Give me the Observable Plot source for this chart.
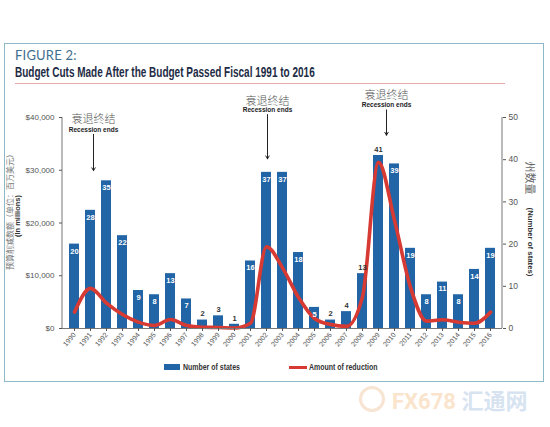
<!DOCTYPE html>
<html><head><meta charset="utf-8">
<script src="https://cdn.jsdelivr.net/npm/d3@7"></script>
<script src="https://cdn.jsdelivr.net/npm/@observablehq/plot@0.6"></script>
<style>
body{margin:0;background:#fff;}
#wrap{position:relative;width:550px;height:427px;overflow:hidden;background:#fff;
  font-family:"Liberation Sans","DejaVu Sans Condensed",sans-serif;}
#frame{position:absolute;left:4px;top:43px;width:538px;height:337px;border:1.5px solid #8cb9c8;}
#fig{position:absolute;left:15px;top:48px;font-family:"Lato","Open Sans",sans-serif;font-size:13px;letter-spacing:0.2px;color:#3f6e90;line-height:14px;}
#title{position:absolute;left:15px;top:64px;font-weight:bold;font-size:14px;color:#1d2b45;line-height:16px;white-space:nowrap;transform-origin:0 0;}
#rule{position:absolute;left:15px;top:83px;width:490px;height:1px;background:#e8a7aa;}
#chart{position:absolute;left:0;top:85px;}
#legend{position:absolute;left:0;top:361px;width:550px;height:12px;font-size:8.5px;font-weight:bold;color:#333;}
#legend .sw{position:absolute;}
#legend .lb{position:absolute;top:0;line-height:12px;white-space:nowrap;transform-origin:0 0;transform:scaleX(0.82);}
#wm{position:absolute;left:392px;top:383px;font-family:"Roboto","Noto Sans CJK SC",sans-serif;font-size:22px;font-weight:bold;white-space:nowrap;opacity:0.35;}
#wm .a{color:#f2b36e;}
#wm .b{color:#8fb2d8;font-family:"Noto Sans CJK SC",sans-serif;}
#wmlogo{position:absolute;left:359px;top:386px;width:20px;height:20px;border:3px solid #f1c9a6;border-radius:50%;opacity:0.5;}
</style></head><body>
<div id="wrap">
  <div id="frame"></div>
  <div id="fig">FIGURE 2:</div>
  <div id="title">Budget Cuts Made After the Budget Passed Fiscal 1991 to 2016</div>
  <div id="rule"></div>
  <div id="chart"></div>
  <div id="legend">
    <div class="sw" style="left:164px;top:3px;width:16px;height:6px;background:#2165a6;"></div>
    <div class="lb" style="left:183px;">Number of states</div>
    <div class="sw" style="left:289px;top:5px;width:18px;height:3px;background:#d63a33;"></div>
    <div class="lb" style="left:309px;">Amount of reduction</div>
  </div>
  <div id="wmlogo"></div>
  <div id="wm"><span class="a">FX678</span> <span class="b">汇通网</span></div>
</div>
<script>
// ---- data ----
const years = ["1990","1991","1992","1993","1994","1995","1996","1997","1998","1999","2000","2001","2002","2003","2004","2005","2006","2007","2008","2009","2010","2011","2012","2013","2014","2015","2016"];
const states = [20,28,35,22,9,8,13,7,2,3,1,16,37,37,18,5,2,4,13,41,39,19,8,11,8,14,19];
const reduction = [3100,7600,4800,2650,1200,570,1700,570,250,200,100,1000,15500,11500,5900,1900,750,400,6000,31500,20500,7800,1400,1650,1200,1000,3100];
const labelsAbove = ["1998","1999","2000","2006","2007","2008","2009"];
const leftTickValues = [0,10000,20000,30000,40000];
const leftTickLabels = ["$0","$10,000","$20,000","$30,000","$40,000"];
const rightTicks = [0,10,20,30,40,50];
const recessionYears = ["1991","2002","2009"];
const recessionCN = ["衰退终结","衰退终结","衰退终结"];
const recessionEN = ["Recession ends","Recession ends","Recession ends"];
const statesMax = 50, dollarsMax = 40000;

// ---- derived tables ----
const ratio = dollarsMax / statesMax;
const rows = years.map((y, i) => ({year: y, states: states[i], amount: reduction[i] / ratio}));
const inside = rows.filter(d => !labelsAbove.includes(d.year));
const above = rows.filter(d => labelsAbove.includes(d.year));
// annotation layout (in y-scale units of states)
const anno = recessionYears.map((y, i) => ({
  year: y, cn: recessionCN[i], en: recessionEN[i],
  yc: [49.6, 53.9, 55.2][i], ye: [47.0, 51.7, 53.0][i],
  y1: [46.0, 50.7, 51.8][i], y2: [37.4, 40.2, 45.8][i],
  dx: [3, 1, 8][i]
}));

const font = '"Liberation Sans","DejaVu Sans Condensed",sans-serif';
const axisLines = (index, scales, values, dim) => {
  const g = d3.create("svg:g").attr("stroke", "#777").attr("stroke-width", 1);
  g.append("line").attr("x1", dim.marginLeft).attr("x2", dim.marginLeft)
    .attr("y1", dim.marginTop).attr("y2", dim.height - dim.marginBottom);
  g.append("line").attr("x1", dim.width - dim.marginRight).attr("x2", dim.width - dim.marginRight)
    .attr("y1", dim.marginTop).attr("y2", dim.height - dim.marginBottom);
  return g.node();
};

const annoMarks = anno.flatMap(a => [
  Plot.text([a], {x: "year", y: "yc", dx: a.dx, text: "cn", fontFamily: '"Noto Sans CJK SC",sans-serif', fontSize: 11, fill: "#555", fontWeight: 300}),
  Plot.text([a], {x: "year", y: "ye", dx: a.dx, text: "en", fontSize: 6.5, fontWeight: "bold", fill: "#222"}),
  Plot.arrow([a], {x1: "year", x2: "year", y1: "y1", y2: "y2", dx: a.dx, stroke: "#222", strokeWidth: 1, headLength: 5})
]);

const plot = Plot.plot({
  width: 550, height: 290,
  marginLeft: 62, marginRight: 48, marginTop: 32, marginBottom: 47,
  style: {fontFamily: font, background: "transparent", overflow: "visible"},
  x: {domain: years, paddingInner: 0.35, paddingOuter: 0.175, label: null},
  y: {domain: [0, statesMax], label: null},
  marks: [
    Plot.barY(rows, {x: "year", y: "states", fill: "#2165a6"}),
    Plot.line(rows, {x: "year", y: "amount", stroke: "#d63a33", strokeWidth: 3.6, curve: "monotone-x"}),
    Plot.text(inside, {x: "year", y: "states", text: d => String(d.states), dy: 7, fill: "white", fontWeight: "bold", fontSize: 7.5}),
    Plot.text(above, {x: "year", y: "states", text: d => String(d.states), dy: -6, fill: "#333", fontWeight: "bold", fontSize: 7.5}),
    Plot.ruleY([0], {stroke: "#777"}),
    axisLines,
    Plot.axisY({anchor: "left", ticks: leftTickValues.map(v => v / ratio), tickFormat: (d, i) => leftTickLabels[i], tickSize: 3, tickPadding: 5, fontSize: 8, color: "#555", label: null}),
    Plot.axisY({anchor: "right", ticks: rightTicks, tickSize: 3, tickPadding: 3, fontSize: 8.5, color: "#555", label: null}),
    Plot.axisX({tickRotate: -50, tickSize: 3, tickPadding: 2, fontSize: 7, color: "#555", label: null}),
    ...annoMarks,
    Plot.text(["预算削减数额（单位：百万美元）"], {frameAnchor: "left", textAnchor: "middle", rotate: -90, dx: -52, dy: -13, fontFamily: '"Noto Sans CJK SC",sans-serif', fontSize: 8, fill: "#777"}),
    Plot.text(["(In millions)"], {frameAnchor: "left", textAnchor: "middle", rotate: -90, dx: -45, dy: -7, fontSize: 7.5, fontWeight: "bold", fill: "#333"}),
    Plot.text(["州数量"], {frameAnchor: "right", textAnchor: "middle", rotate: 90, dx: 27, dy: -45, fontFamily: '"Noto Sans CJK SC",sans-serif', fontSize: 11, fill: "#666"}),
    Plot.text(["(Number of states)"], {frameAnchor: "right", textAnchor: "middle", rotate: 90, dx: 28, dy: 19, fontSize: 7.8, fontWeight: "bold", fill: "#333"})
  ]
});
document.getElementById("chart").appendChild(plot);
// fit title to its width in the reference
const t = document.getElementById("title");
t.style.transform = `scaleX(${300 / t.scrollWidth})`;
</script>
</body></html>
